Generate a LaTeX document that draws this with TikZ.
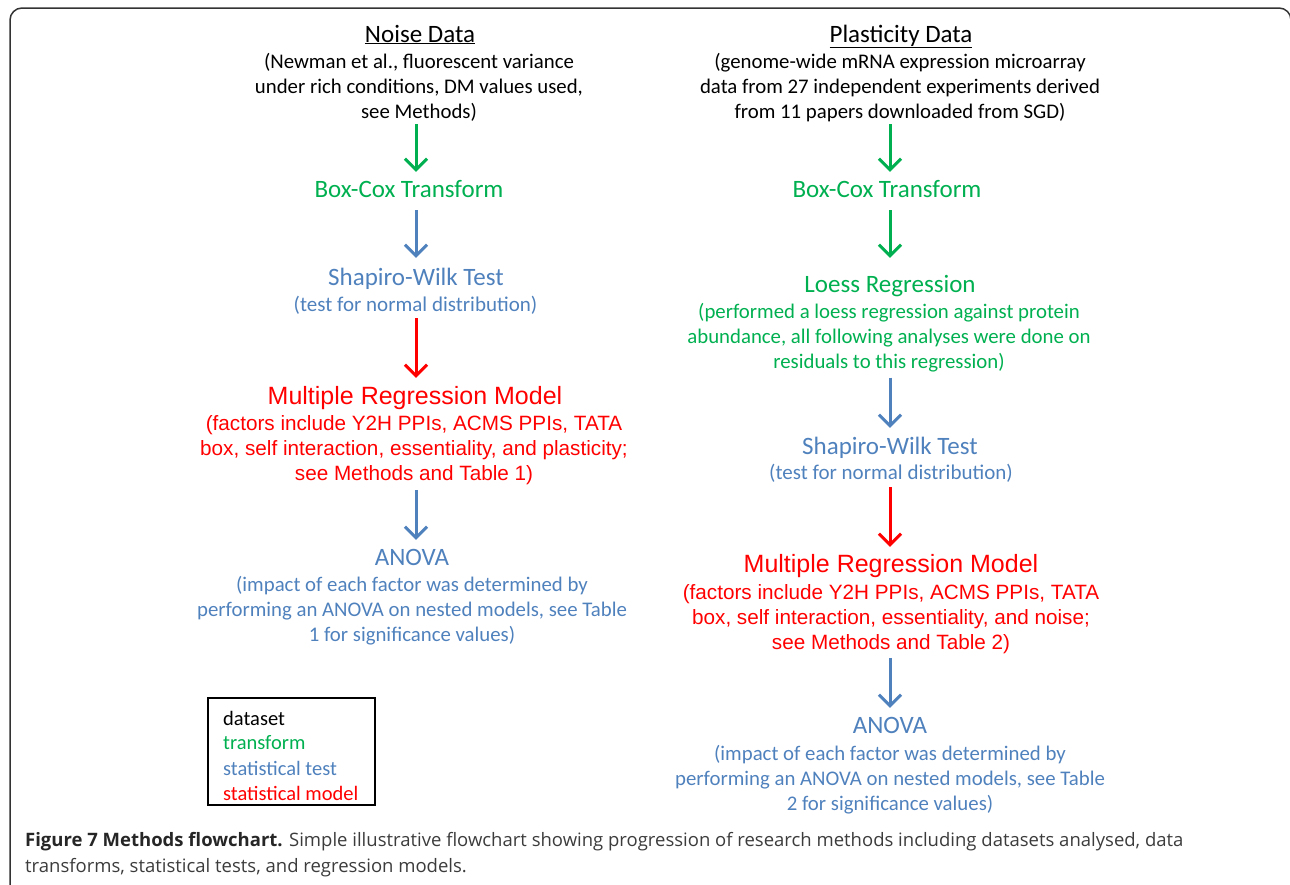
\documentclass[tikz,border=0pt]{standalone}
\usepackage{fontspec}
\setmainfont{Carlito}
\newfontfamily\arialf{Liberation Sans}
\newfontfamily\capf{Open Sans}
\usetikzlibrary{arrows.meta}
\definecolor{tgreen}{HTML}{00B050}
\definecolor{tblue}{HTML}{4F81BD}
\definecolor{tred}{HTML}{FF0000}
\definecolor{capgray}{HTML}{3C3C3C}
\definecolor{framegray}{HTML}{333333}
\begin{document}
\begin{tikzpicture}[x=1pt,y=-1pt,
  txt/.style={inner sep=0pt, align=center},
  one/.style={inner sep=0pt, anchor=base, text height=18pt, text depth=6pt},
  head/.style={one, font=\fontsize{25}{25}\selectfont},
  desc/.style={txt, font=\fontsize{20.8}{25}\selectfont},
  ttl/.style={one, font=\fontsize{25}{25}\selectfont},
  sub/.style={one, text height=15pt, text depth=6pt, font=\fontsize{21}{25}\selectfont},
  mrt/.style={one, text height=20pt, font=\arialf\fontsize{25}{27}\selectfont, text=tred},
  mrd/.style={txt, font=\arialf\fontsize{20.7}{25}\selectfont, text=tred},
  arr/.style={line width=3pt, -{Straight Barb[length=11pt,width=22pt]}},
  garr/.style={arr, draw=tgreen},
  barr/.style={arr, draw=tblue},
  rarr/.style={arr, draw=tred},
  legtxt/.style={inner sep=0pt, anchor=west, font=\fontsize{20.5}{25}\selectfont}
]
\useasboundingbox (0,0) rectangle (1290,884);
\clip (0,0) rectangle (1290,884);
\draw[framegray, line width=1.5pt, rounded corners=12pt] (10,8) rectangle (1291,896);

% ---- Left column
\node[head] (noiseT) at (420,42) {\underline{Noise Data}};
\node[desc] (noiseD) at (419,87) {(Newman et al., fluorescent variance\\under rich conditions, DM values used,\\see Methods)};
\node[ttl, text=tgreen] (boxL) at (409,197.5) {Box-Cox Transform};
\node[ttl, text=tblue] (swL) at (416,285) {Shapiro-Wilk Test};
\node[sub, text=tblue] (swLd) at (415.5,311) {(test for normal distribution)};
\node[mrt] (mrL) at (415,404) {Multiple Regression Model};
\node[mrd] (mrLd) at (414,450) {(factors include Y2H PPIs, ACMS PPIs, TATA\\box, self interaction, essentiality, and plasticity;\\see Methods and Table 1)};
\node[ttl, text=tblue] (anL) at (412,565) {ANOVA};
\node[desc, text=tblue] (anLd) at (412,611) {(impact of each factor was determined by\\performing an ANOVA on nested models, see Table\\1 for significance values)};

\draw[garr, shorten <=3pt, shorten >=7.5pt] ([xshift=7pt]boxL.north |- noiseD.south) -- ([xshift=7pt]boxL.north);
\draw[barr, shorten <=6.5pt, shorten >=9pt] (swL.north |- boxL.south) -- (swL.north);
\draw[rarr, shorten <=1pt, shorten >=6pt] ([xshift=0.5pt]swLd.south) -- ([xshift=0.5pt]swLd.south |- mrL.north);
\draw[barr, shorten <=5pt, shorten >=7pt] ([xshift=4pt]anL.north |- mrLd.south) -- ([xshift=4pt]anL.north);

% ---- Right column
\node[head] (plT) at (901,42) {\underline{Plasticity Data}};
\node[desc] (plD) at (900,88) {(genome-wide mRNA expression microarray\\data from 27 independent experiments derived\\from 11 papers downloaded from SGD)};
\node[ttl, text=tgreen] (boxR) at (887,197.5) {Box-Cox Transform};
\node[ttl, text=tgreen] (loR) at (890,292) {Loess Regression};
\node[desc, text=tgreen] (loRd) at (889,338) {(performed a loess regression against protein\\abundance, all following analyses were done on\\residuals to this regression)};
\node[ttl, text=tblue] (swR) at (890,454) {Shapiro-Wilk Test};
\node[sub, text=tblue] (swRd) at (891,479) {(test for normal distribution)};
\node[mrt] (mrR) at (891,572) {Multiple Regression Model};
\node[mrd] (mrRd) at (891,619) {(factors include Y2H PPIs, ACMS PPIs, TATA\\box, self interaction, essentiality, and noise;\\see Methods and Table 2)};
\node[ttl, text=tblue] (anR) at (890,733) {ANOVA};
\node[desc, text=tblue] (anRd) at (890,780) {(impact of each factor was determined by\\performing an ANOVA on nested models, see Table\\2 for significance values)};

\draw[garr, shorten <=2pt, shorten >=7.5pt] ([xshift=3pt]boxR.north |- plD.south) -- ([xshift=3pt]boxR.north);
\draw[garr, shorten <=6.5pt, shorten >=16pt] (loR.north |- boxR.south) -- (loR.north);
\draw[barr, shorten <=5pt, shorten >=8pt] (swR.north |- loRd.south) -- (swR.north);
\draw[rarr, shorten <=2pt, shorten >=5pt] ([xshift=-1pt]mrR.north |- swRd.south) -- ([xshift=-1pt]mrR.north);
\draw[barr, shorten <=4pt, shorten >=7pt] (anR.north |- mrRd.south) -- (anR.north);

% ---- Legend
\node[draw=black, line width=1.3pt, minimum width=167pt, minimum height=107pt, inner sep=0pt] (legend) at (291.5,751.5) {};
\node[legtxt, text=black] (lg1) at (223,718) {dataset};
\node[legtxt, text=tgreen] (lg2) at (223,743) {transform};
\node[legtxt, text=tblue] (lg3) at (223,768) {statistical test};
\node[legtxt, text=tred] (lg4) at (223,793) {statistical model};

% ---- Caption
\node[inner sep=0pt, anchor=base west, font=\capf\fontsize{18.5}{26}\selectfont, text=capgray] (cap1) at (25,846) {\textbf{\color{black!85}Figure 7 Methods flowchart.} Simple illustrative flowchart showing progression of research methods including datasets analysed, data};
\node[inner sep=0pt, anchor=base west, font=\capf\fontsize{18.5}{26}\selectfont, text=capgray] (cap2) at (25,872) {transforms, statistical tests, and regression models.};
\end{tikzpicture}
\end{document}
